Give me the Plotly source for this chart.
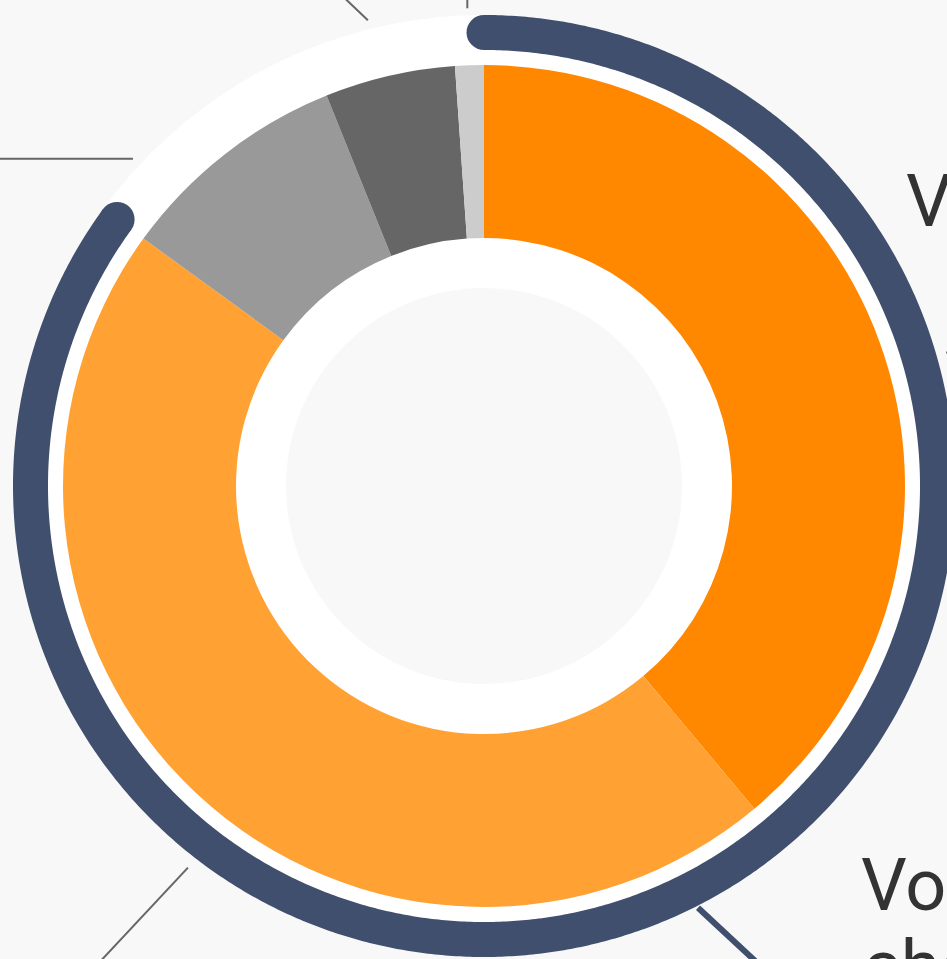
import numpy as np
import plotly.graph_objects as go

# ---------------- data ----------------
categories = ["Vertrieb direkt", "Vertrieb Partner", "Online", "Handel", "Sonstige"]
shares = [38.9, 46.1, 8.9, 5.0, 1.1]          # percent of total
slice_colors = ["#ff8800", "#ffa133", "#999999", "#666666", "#cccccc"]
highlighted = [True, True, False, False, False]   # slices covered by the outer arc
right_label = "Vertrieb"
total_label = ["Volumen", "chancen"]

# ---------------- style ----------------
W, H = 947, 959
CX, CY = 484, 486          # centre in pixels (from top-left)
R_OUT, R_HOLE, R_CORE = 421, 248, 198
R_DISK = 471
ARC_W = 35
ARC_R = R_DISK - ARC_W / 2
ARC_COLOR = "#3f4f6d"
BG = "#f8f8f8"
TEXT = "#333333"
FONT = "Roboto"

fig = go.Figure()

# outer highlight arc (spans the highlighted slices)
total = sum(shares)
frac = sum(s for s, h in zip(shares, highlighted) if h) / total
theta = np.linspace(0, 2 * np.pi * frac, 720)
ax_ = ARC_R * np.sin(theta)
ay_ = ARC_R * np.cos(theta)
fig.add_trace(go.Scatter(x=ax_, y=ay_, mode="lines",
                         line=dict(color=ARC_COLOR, width=ARC_W, simplify=False),
                         hoverinfo="skip", showlegend=False))
fig.add_trace(go.Scatter(x=[ax_[0], ax_[-1]], y=[ay_[0], ay_[-1]], mode="markers",
                         marker=dict(size=ARC_W, color=ARC_COLOR, line_width=0),
                         hoverinfo="skip", showlegend=False))

# connector lines: (angle deg, start radius, dx, dy, colour, width)
connectors = [
    (313.0, 480, -250, 0, "#666666", 2),
    (346.0, 480, -42, 40, "#666666", 2),
    (358.0, 478, 0, 30, "#666666", 2),
    (73.9, 481, 30, 0, "#666666", 2),
    (217.8, 483, -130, -139, "#666666", 2),
    (153.1, 473, 85, -79, ARC_COLOR, 6),
]
for ang, r0, dx, dy, col, wd in connectors:
    a = np.deg2rad(ang)
    x0, y0 = r0 * np.sin(a), r0 * np.cos(a)
    fig.add_trace(go.Scatter(x=[x0, x0 + dx], y=[y0, y0 + dy], mode="lines",
                             line=dict(color=col, width=wd),
                             hoverinfo="skip", showlegend=False))

# donut
fig.add_trace(go.Pie(
    labels=categories, values=shares, sort=False, direction="clockwise", rotation=0,
    hole=R_HOLE / R_OUT, textinfo="none", showlegend=False,
    marker=dict(colors=slice_colors, line=dict(width=0)),
    domain=dict(x=[(CX - R_OUT) / W, (CX + R_OUT) / W],
                y=[(H - CY - R_OUT) / H, (H - CY + R_OUT) / H]),
))

shapes = [
    dict(type="circle", xref="x", yref="y", x0=-R_DISK, x1=R_DISK, y0=-R_DISK, y1=R_DISK,
         fillcolor="white", line=dict(width=0), layer="below"),
    dict(type="circle", xref="x", yref="y", x0=-R_CORE, x1=R_CORE, y0=-R_CORE, y1=R_CORE,
         fillcolor=BG, line=dict(width=0), layer="below"),
]

def ann(text, px, py):
    return dict(text=text, xref="paper", yref="paper", x=px / W, y=1 - py / H,
                xanchor="left", yanchor="middle", showarrow=False,
                font=dict(family=FONT, size=72, color=TEXT))

annotations = [
    ann(right_label, 904, 202),
    ann(total_label[0], 859, 885),
    ann(total_label[1], 861, 966),
]

fig.update_layout(
    width=W, height=H, margin=dict(l=0, r=0, t=0, b=0),
    paper_bgcolor=BG, plot_bgcolor=BG,
    xaxis=dict(range=[-CX, W - CX], visible=False, fixedrange=True),
    yaxis=dict(range=[CY - H, CY], visible=False, fixedrange=True),
    shapes=shapes, annotations=annotations,
)

fig.write_html("out.html",
               config={"displayModeBar": False},
               post_script="document.body.style.margin='0px';"
                           "document.body.style.background='%s';"
                           "document.body.style.overflow='hidden';" % BG)
